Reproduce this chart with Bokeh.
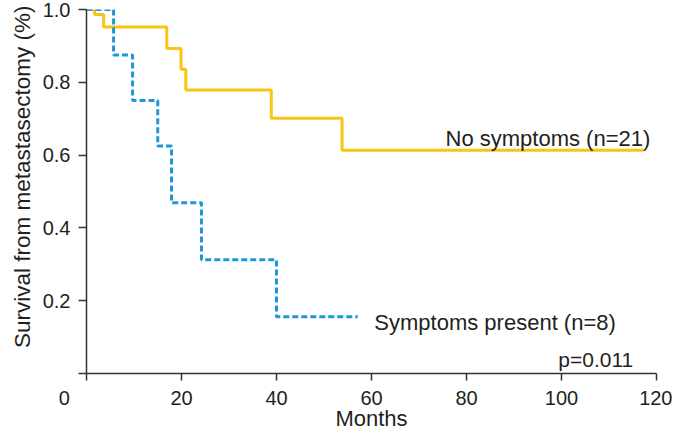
from bokeh.plotting import figure
from bokeh.models import FixedTicker, Label, Title
from bokeh.embed import file_html
from bokeh.resources import INLINE

# Kaplan-Meier estimates
no_sym_months = [0, 1.7, 3.6, 16.9, 19.9, 20.9, 38.9, 53.8, 117.3]
no_sym_surv = [1.0, 0.986, 0.952, 0.893, 0.836, 0.779, 0.701, 0.613, 0.613]

sym_months = [0, 5.7, 9.7, 15.0, 17.9, 24.2, 40.0, 57.1]
sym_surv = [1.0, 0.875, 0.75, 0.625, 0.469, 0.3125, 0.156, 0.156]

x_ticks = [0, 20, 40, 60, 80, 100, 120]
y_ticks = [0, 0.2, 0.4, 0.6, 0.8, 1.0]
y_tick_labels = ["", "0.2", "0.4", "0.6", "0.8", "1.0"]

label_no_sym = "No symptoms (n=21)"
label_sym = "Symptoms present (n=8)"
p_value = "p=0.011"
x_title = "Months"
y_title = "Survival from metastasectomy (%)"

FONT = "Liberation Sans"
TXT = "#231f20"
AX = "#333333"
YELLOW = "#FBC314"
BLUE = "#1C98D5"

p = figure(width=672, height=433, x_range=(0, 120), y_range=(0, 1.0),
           output_backend="svg", toolbar_location=None,
           min_border_left=86, min_border_right=16, min_border_top=9,
           min_border_bottom=59)
p.outline_line_color = None
p.xgrid.visible = False
p.ygrid.visible = False
p.background_fill_color = "white"
p.border_fill_color = "white"

for ax in (p.xaxis[0], p.yaxis[0]):
    ax.axis_line_color = AX
    ax.axis_line_width = 1.5
    ax.major_tick_line_color = AX
    ax.major_tick_line_width = 1.5
    ax.major_tick_in = 0
    ax.minor_tick_line_color = None
    ax.major_label_text_font = FONT
    ax.major_label_text_font_size = "20px"
    ax.major_label_text_color = TXT

xa = p.xaxis[0]
xa.ticker = FixedTicker(ticks=x_ticks)
xa.major_tick_out = 7
xa.major_label_standoff = 6
# the "0" sits left of its tick in the reference
xa.major_label_overrides = {0: "0" + "\u00a0" * 8}
xa.axis_label = x_title
xa.axis_label_text_font = FONT
xa.axis_label_text_font_size = "22px"
xa.axis_label_text_font_style = "normal"
xa.axis_label_text_color = TXT
xa.axis_label_standoff = -6

ya = p.yaxis[0]
ya.ticker = FixedTicker(ticks=y_ticks)
ya.major_tick_out = 8
ya.major_label_standoff = 8
ya.major_label_overrides = dict(zip(y_ticks, y_tick_labels))

p.add_layout(Title(text=y_title, align="right", vertical_align="middle",
                   offset=-4, standoff=8,
                   text_font=FONT, text_font_size="22.5px",
                   text_font_style="normal", text_color=TXT), "left")

p.step(no_sym_months, no_sym_surv, mode="after", line_color=YELLOW, line_width=3)
p.step(sym_months, sym_surv, mode="after", line_color=BLUE, line_width=3,
       line_dash="6 3")

def lab(text, x, y, align, size="22px", y_off=0):
    p.add_layout(Label(x=x, y=y, text=text, text_align=align,
                       text_baseline="alphabetic", text_font=FONT,
                       text_font_size=size, text_color=TXT, y_offset=y_off))

lab(label_no_sym, 118.7, no_sym_surv[-1], "right", y_off=12)
lab(label_sym, 60.6, sym_surv[-1], "left", y_off=-6)
lab(p_value, 115.1, 0, "right", size="21px", y_off=14)

open("out.html", "w").write(file_html(p, INLINE))
